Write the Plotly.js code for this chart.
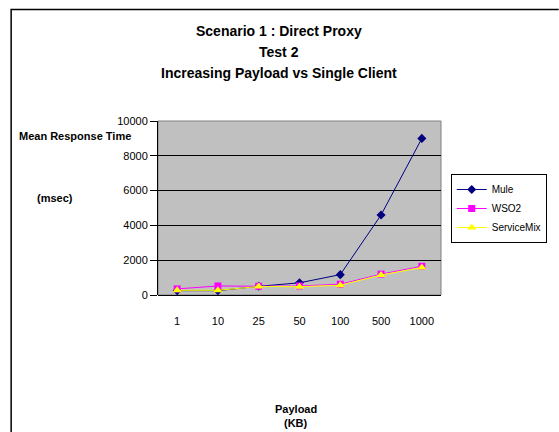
<!DOCTYPE html>
<html>
<head>
<meta charset="utf-8">
<script src="https://cdn.plot.ly/plotly-3.0.1.min.js"></script>
<style>html,body{margin:0;padding:0;background:#fff;}#chart{width:559px;height:432px;}</style>
</head>
<body>
<div id="chart"></div>
<script>
const payloads = ["1", "10", "25", "50", "100", "500", "1000"];
const mule = [250, 250, 500, 700, 1170, 4600, 9000];
const wso2 = [350, 520, 500, 520, 620, 1200, 1650];
const serviceMix = [270, 270, 490, 480, 560, 1150, 1580];
const yTicks = [0, 2000, 4000, 6000, 8000, 10000];

const FONT = "Liberation Sans, Arial, sans-serif";
const L = 158, R = 449, T = 121, B = 295;
const px = v => (v - L) / (R - L);
const py = v => (B - v) / (B - T);

const traces = [
  {name: "Mule", x: payloads, y: mule, type: "scatter", mode: "lines+markers",
   line: {color: "#000080", width: 1}, marker: {symbol: "diamond", size: 7, color: "#000080"}},
  {name: "WSO2", x: payloads, y: wso2, type: "scatter", mode: "lines+markers",
   line: {color: "#FF00FF", width: 1}, marker: {symbol: "square", size: 7, color: "#FF00FF"}},
  {name: "ServiceMix", x: payloads, y: serviceMix, type: "scatter", mode: "lines+markers",
   line: {color: "#FFFF00", width: 1}, marker: {symbol: "triangle-up", size: 8, color: "#FFFF00"}}
];

const titleFont = {family: FONT, size: 14, color: "#000", weight: "bold"};
const axFont = {family: FONT, size: 11, color: "#000", weight: "bold"};

const layout = {
  width: 559, height: 432,
  margin: {l: L, r: 559 - R, t: T, b: 432 - B, pad: 0},
  paper_bgcolor: "#ffffff",
  plot_bgcolor: "#C0C0C0",
  showlegend: true,
  legend: {x: px(459), y: py(174), xanchor: "left", yanchor: "top",
    bgcolor: "#ffffff", bordercolor: "#000", borderwidth: 1,
    font: {family: FONT, size: 10, color: "#000"}, tracegroupgap: 0, itemwidth: 30},
  xaxis: {type: "category", showgrid: false, zeroline: false, showline: false,
    ticks: "", ticklabelstandoff: 18, tickfont: {family: FONT, size: 11, color: "#000"},
    fixedrange: true},
  yaxis: {range: [0, 10000], tickvals: yTicks, ticktext: yTicks.map(String),
    showgrid: true, gridcolor: "#000", gridwidth: 1, zeroline: true, zerolinecolor: "#000", zerolinewidth: 1,
    showline: true, linecolor: "#000", linewidth: 1,
    ticks: "outside", ticklen: 7, tickcolor: "#000", tickfont: {family: FONT, size: 11, color: "#000"},
    fixedrange: true},
  shapes: [
    {type: "rect", xref: "paper", yref: "paper", x0: 0, x1: 1, y0: 0, y1: 1,
     line: {color: "#808080", width: 1}, layer: "below"},
    {type: "path", xref: "paper", yref: "paper",
     path: `M ${px(7)} ${py(440)} L ${px(7)} ${py(9.5)} L ${px(570)} ${py(9.5)}`,
     line: {color: "#000", width: 1.5}}
  ],
  annotations: [
    {text: "Scenario 1 : Direct Proxy", x: px(282), y: py(31), xref: "paper", yref: "paper", showarrow: false, xanchor: "center", yanchor: "middle", font: titleFont},
    {text: "Test 2", x: px(282), y: py(52), xref: "paper", yref: "paper", showarrow: false, xanchor: "center", yanchor: "middle", font: titleFont},
    {text: "Increasing Payload vs Single Client", x: px(282), y: py(73), xref: "paper", yref: "paper", showarrow: false, xanchor: "center", yanchor: "middle", font: titleFont},
    {text: "Mean Response Time", x: px(73), y: py(136), xref: "paper", yref: "paper", showarrow: false, xanchor: "center", yanchor: "middle", font: axFont},
    {text: "(msec)", x: px(52), y: py(198), xref: "paper", yref: "paper", showarrow: false, xanchor: "center", yanchor: "middle", font: axFont},
    {text: "Payload", x: px(300), y: py(409), xref: "paper", yref: "paper", showarrow: false, xanchor: "center", yanchor: "middle", font: axFont},
    {text: "(KB)", x: px(300), y: py(423), xref: "paper", yref: "paper", showarrow: false, xanchor: "center", yanchor: "middle", font: axFont}
  ]
};

Plotly.newPlot("chart", traces, layout, {displayModeBar: false, staticPlot: true});
</script>
</body>
</html>
